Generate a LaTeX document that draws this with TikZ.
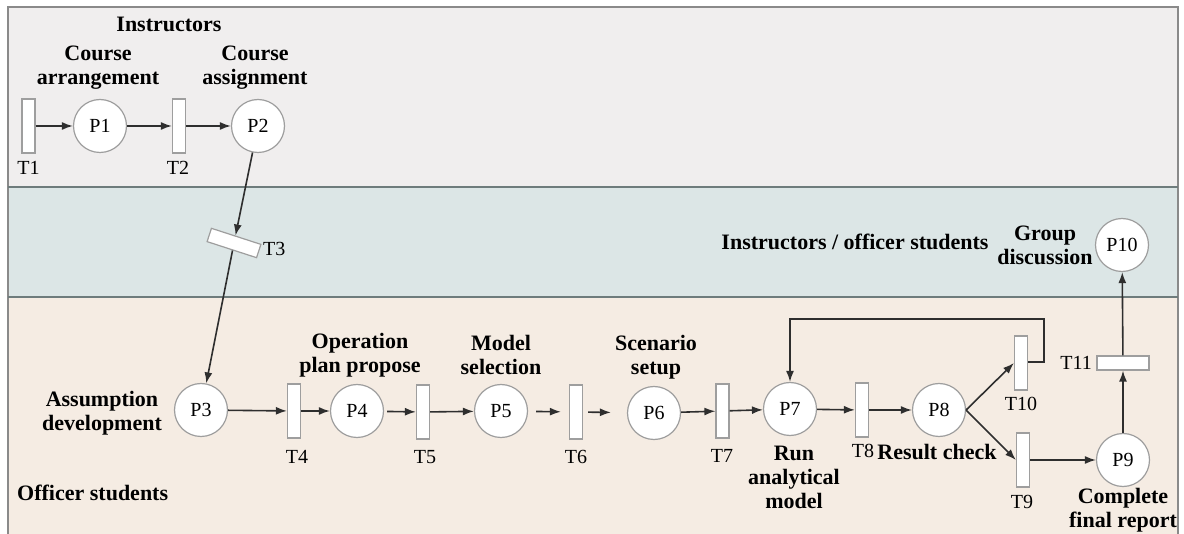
\documentclass[tikz,border=0pt]{standalone}
\usepackage{fontspec}
\setmainfont{Liberation Serif}
\usetikzlibrary{arrows.meta}
\definecolor{bandtop}{HTML}{F0EEEE}
\definecolor{bandmid}{HTML}{DCE6E6}
\definecolor{bandbot}{HTML}{F5ECE3}
\definecolor{framegray}{HTML}{8A8A8A}
\definecolor{sepgray}{HTML}{6E7C7C}
\definecolor{circgray}{HTML}{9E9E9E}
\definecolor{linegray}{HTML}{2E2E2E}
\tikzset{
  place/.style={circle, draw=circgray, fill=white, line width=1.2pt, minimum size=53pt, inner sep=0pt, font=\fontsize{20}{22}\selectfont},
  trans/.style={rectangle, draw=circgray, fill=white, line width=1.2pt, minimum width=13pt, minimum height=54pt, inner sep=0pt},
  htrans/.style={rectangle, draw=circgray, fill=white, line width=1.2pt, minimum width=52pt, minimum height=14pt, inner sep=0pt},
  lbl/.style={font=\fontsize{20}{22}\selectfont, inner sep=0pt},
  blbl/.style={font=\fontsize{22}{24}\selectfont\bfseries, inner sep=0pt, align=center},
  arc/.style={draw=linegray, line width=1.6pt, -{Latex[length=11pt,width=8pt]}},
}
\begin{document}
\begin{tikzpicture}[x=1pt,y=-1pt]
\useasboundingbox (0,0) rectangle (1184,534);
% bands
\fill[white] (0,0) rectangle (1184,534);
\fill[bandtop] (8,7) rectangle (1178,187);
\fill[bandmid] (8,187) rectangle (1178,297);
\fill[bandbot] (8,297) rectangle (1178,534);
\draw[framegray, line width=1.2pt] (8,534) -- (8,7) -- (1178,7) -- (1178,534);
\draw[sepgray, line width=2.5pt] (8,187) -- (1178,187);
\draw[sepgray, line width=2.5pt] (8,297) -- (1178,297);

% top lane
\node[blbl] (linstr) at (169,24) {Instructors};
\node[blbl] (lca) at (98,68) {Course\\arrangement};
\node[blbl] (lcs) at (255,68) {Course\\assignment};
\node[trans] (T1) at (28.5,126) {};
\node[place] (P1) at (100,126) {P1};
\node[trans] (T2) at (179,126) {};
\node[place] (P2) at (258,126) {P2};
\node[lbl] (lT1) at (28.5,168) {T1};
\node[lbl] (lT2) at (178,168) {T2};

% middle lane
\node[htrans, rotate=-18] (T3) at (234,243) {};
\node[lbl, anchor=west] (lT3) at (263,249) {T3};
\node[blbl] (lios) at (855,242) {Instructors / officer students};
\node[blbl] (lgd) at (1045,245) {Group\\discussion};
\node[place] (P10) at (1122,245) {P10};

% bottom lane
\node[blbl, anchor=west] (lofs) at (17,493) {Officer students};
\node[blbl] (lad) at (102,413) {Assumption\\development};
\node[place] (P3) at (201,410) {P3};
\node[trans] (T4) at (294,411) {};
\node[place] (P4) at (357,411) {P4};
\node[blbl] (lop) at (360,355) {Operation\\plan propose};
\node[trans] (T5) at (423,412) {};
\node[place] (P5) at (501,411) {P5};
\node[blbl] (lms) at (501,355) {Model\\selection};
\node[trans] (T6) at (576,412) {};
\node[place] (P6) at (654,413) {P6};
\node[blbl] (lss) at (656,357) {Scenario\\setup};
\node[trans] (T7) at (722.5,411) {};
\node[place] (P7) at (790,409) {P7};
\node[blbl] (lram) at (794,477) {Run\\analytical\\model};
\node[trans] (T8) at (862,410) {};
\node[place] (P8) at (939,410) {P8};
\node[blbl] (lrc) at (937,452) {Result check};
\node[trans] (T10) at (1021,363) {};
\node[trans] (T9) at (1023,460) {};
\node[place] (P9) at (1123,460) {P9};
\node[blbl] (lcfr) at (1123,510) {Complete\\final report};
\node[htrans] (T11) at (1123,363) {};

\node[lbl] (lT4) at (297,457) {T4};
\node[lbl] (lT5) at (425,457) {T5};
\node[lbl] (lT6) at (576,457) {T6};
\node[lbl] (lT7) at (722,456) {T7};
\node[lbl] (lT8) at (863,451) {T8};
\node[lbl] (lT9) at (1022,502) {T9};
\node[lbl] (lT10) at (1021,404) {T10};
\node[lbl, anchor=east] (lT11) at (1092,363) {T11};

% connectors
\draw[arc] (T1) -- (P1);
\draw[arc] (P1) -- (T2);
\draw[arc] (T2) -- (P2);
\draw[arc] (P2) -- (T3);
\draw[arc] (T3) -- (P3);
\draw[arc] (P3) -- (T4);
\draw[arc] (T4) -- (P4);
\draw[arc, shorten <=3pt] (P4) -- (T5);
\draw[arc] (T5) -- (P5);
\draw[arc, shorten <=8pt, shorten >=8pt] (P5) -- (T6);
\draw[arc, shorten <=5pt, shorten >=16pt] (T6) -- (P6);
\draw[arc] (P6) -- (T7);
\draw[arc] (T7) -- (P7);
\draw[arc] (P7) -- (T8);
\draw[arc] (T8) -- (P8);
\draw[arc] (P8.east) -- (T10.west);
\draw[arc] (P8.east) -- (T9.west);
\draw[arc] (T9) -- (P9);
\draw[arc] (P9) -- (T11);
\draw[arc] (T11) -- (P10);
\coordinate (lp1) at (1044,362);
\coordinate (lp2) at (1044,319);
\coordinate (lp3) at (790,319);
\draw[arc] (T10.east |- lp1) -- (lp1) -- (lp2) -- (lp3) -- (P7.north);
\end{tikzpicture}
\end{document}
